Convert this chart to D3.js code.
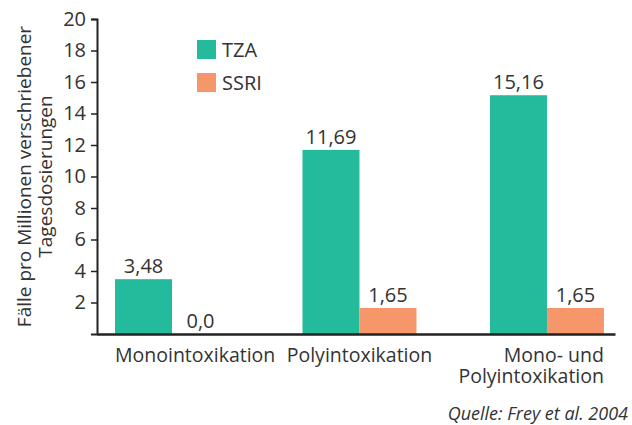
<!DOCTYPE html>
<html>
<head>
<meta charset="utf-8">
<script src="https://cdn.jsdelivr.net/npm/d3@7"></script>
<style>
  body { margin: 0; background: white; }
  text { font-family: "Open Sans", sans-serif; fill: #333; }
</style>
</head>
<body>
<svg id="chart" width="632" height="425"></svg>
<script>

// data
let categories = ["Monointoxikation", "Polyintoxikation", "Mono- und\nPolyintoxikation"];
let seriesNames = ["TZA", "SSRI"];
let tzaValues = [3.48, 11.69, 15.16];
let ssriValues = [0.0, 1.65, 1.65];
let yTicks = [2, 4, 6, 8, 10, 12, 14, 16, 18, 20];
let yLabel = ["Fälle pro Millionen verschriebener", "Tagesdosierungen"];
let source = "Quelle: Frey et al. 2004";

let colors = {TZA: "#23bb9b", SSRI: "#f6966b"};
let labelAnchor = ["start", "middle", "end"];

function makeChart(id) {
    let chart = d3.select("#" + id);

    chart.append("rect")
        .attr("width", 632)
        .attr("height", 425)
        .style("fill", "white");

    let left = 97, right = 615, top = 19, bottom = 334;

    let xScale = d3.scaleBand().domain(categories).range([left, right])
        .paddingInner(0.392).paddingOuter(0.0775).align(0.62);
    let inner = d3.scaleBand().domain(seriesNames).range([0, xScale.bandwidth()]);
    let yScale = d3.scaleLinear().domain([0, 20]).range([bottom, top]);

    let dataset = categories.map((c, i) => ({category: c, TZA: tzaValues[i], SSRI: ssriValues[i]}));

    // bars
    let group = chart.selectAll(".group")
        .data(dataset).enter().append("g").attr("class", "group")
        .attr("transform", d => `translate(${xScale(d.category)},0)`);

    group.selectAll("rect").data(d => seriesNames.map(s => ({key: s, value: d[s]})))
        .enter().append("rect")
        .attr("x", d => inner(d.key))
        .attr("y", d => yScale(d.value))
        .attr("width", inner.bandwidth())
        .attr("height", d => yScale(0) - yScale(d.value))
        .style("fill", d => colors[d.key]);

    group.selectAll(".val").data(d => seriesNames.map(s => ({key: s, value: d[s]})))
        .enter().append("text").attr("class", "val")
        .attr("x", d => inner(d.key) + inner.bandwidth() / 2)
        .attr("y", d => yScale(d.value) - 6)
        .attr("text-anchor", "middle")
        .style("font-size", "20px")
        .text(d => d3.format(".2~f")(d.value).replace(".", ",").replace(/^0$/, "0,0"));

    // y axis
    let yAxis = chart.append("g")
        .attr("transform", `translate(${left},0)`)
        .call(d3.axisLeft(yScale).tickValues(yTicks).tickSize(6).tickPadding(5).tickFormat(d3.format("d")));
    yAxis.select(".domain").attr("stroke", "#222").attr("stroke-width", 2);
    yAxis.selectAll(".tick line").attr("stroke", "#222").attr("stroke-width", 1.5);
    yAxis.selectAll(".tick text").style("font-size", "20px").style("font-family", "Open Sans").attr("fill", "#333");

    // x axis line
    let xAxis = chart.append("g")
        .attr("transform", `translate(0,${bottom})`)
        .call(d3.axisBottom(xScale).tickSize(0).tickFormat(""));
    xAxis.select(".domain").attr("stroke", "#222").attr("stroke-width", 2.5);

    // category labels
    categories.forEach((c, i) => {
        let anchor = labelAnchor[i];
        let x = anchor === "start" ? xScale(c) : anchor === "middle" ? xScale(c) + xScale.bandwidth() / 2 : xScale(c) + xScale.bandwidth();
        let t = chart.append("text")
            .attr("text-anchor", anchor)
            .style("font-size", "19.5px");
        c.split("\n").forEach((line, j) => {
            t.append("tspan").attr("x", x).attr("y", 362 + j * 21).text(line);
        });
    });

    // y label
    let yl = chart.append("text")
        .attr("transform", `translate(0,${(top + bottom) / 2}) rotate(-90)`)
        .attr("text-anchor", "middle")
        .style("font-size", "19px");
    yLabel.forEach((line, j) => {
        yl.append("tspan").attr("x", 0).attr("y", 31 + j * 21).text(line);
    });

    // legend
    let legend = chart.selectAll(".legend").data(seriesNames).enter().append("g")
        .attr("class", "legend")
        .attr("transform", (d, i) => `translate(197,${40 + i * 33})`);
    legend.append("rect").attr("width", 19).attr("height", 19).style("fill", d => colors[d]);
    legend.append("text").attr("x", 25).attr("y", 17).style("font-size", "20px").text(d => d);

    // source
    chart.append("text")
        .attr("x", 628).attr("y", 420)
        .attr("text-anchor", "end")
        .style("font-size", "18px")
        .style("font-style", "italic")
        .text(source);
}

makeChart("chart");
</script>
</body>
</html>
